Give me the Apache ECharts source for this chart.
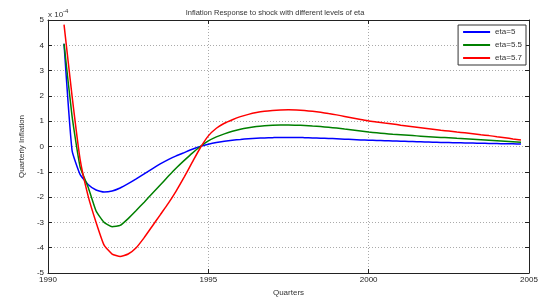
<!DOCTYPE html>
<html>
<head>
<meta charset="utf-8">
<script src="https://cdn.jsdelivr.net/npm/echarts@6/dist/echarts.min.js"></script>
<style>
  html, body { margin: 0; padding: 0; background: #fff; }
  #chart { width: 557px; height: 302px; }
</style>
</head>
<body>
<div id="chart"></div>
<script>
// quarterly responses (x 10^-4), first point at 1990 Q3
const startYear = 1990.5;
const step = 0.25;
const seriesNames = ["eta=5", "eta=5.5", "eta=5.7"];
const seriesColors = ["#0000ff", "#008000", "#ff0000"];

const eta5 = [4.06, -0.15, -1.1, -1.5, -1.72, -1.8, -1.76, -1.64, -1.47, -1.28, -1.08, -0.88, -0.69,
  -0.52, -0.37, -0.24, -0.11, 0.0, 0.09, 0.16, 0.21, 0.25, 0.28, 0.31, 0.33, 0.34, 0.35, 0.36, 0.36,
  0.36, 0.35, 0.34, 0.33, 0.32, 0.31, 0.29, 0.28, 0.26, 0.25, 0.24, 0.23, 0.22, 0.21, 0.2, 0.19,
  0.18, 0.17, 0.16, 0.155, 0.15, 0.14, 0.135, 0.13, 0.12, 0.115, 0.11, 0.105, 0.1];

const eta55 = [4.06, 1.2, -0.8, -1.6, -2.55, -3.0, -3.17, -3.12, -2.85, -2.53, -2.2, -1.86, -1.52,
  -1.18, -0.85, -0.55, -0.26, 0.0, 0.22, 0.38, 0.5, 0.6, 0.68, 0.74, 0.79, 0.82, 0.84, 0.85, 0.85,
  0.84, 0.83, 0.81, 0.79, 0.76, 0.73, 0.69, 0.65, 0.61, 0.57, 0.54, 0.51, 0.48, 0.46, 0.44, 0.42,
  0.4, 0.38, 0.36, 0.35, 0.33, 0.31, 0.29, 0.27, 0.25, 0.23, 0.21, 0.19, 0.17];

const eta57 = [4.82, 2.0, -0.5, -1.95, -3.0, -3.9, -4.25, -4.35, -4.25, -4.0, -3.6, -3.15, -2.7,
  -2.25, -1.75, -1.2, -0.62, -0.05, 0.42, 0.72, 0.92, 1.06, 1.18, 1.27, 1.34, 1.39, 1.42, 1.44, 1.45,
  1.44, 1.42, 1.39, 1.35, 1.3, 1.25, 1.19, 1.13, 1.07, 1.01, 0.97, 0.93, 0.89, 0.84, 0.8, 0.76,
  0.72, 0.68, 0.64, 0.61, 0.57, 0.54, 0.5, 0.46, 0.43, 0.39, 0.35, 0.3, 0.26];

const allValues = [eta5, eta55, eta57];

const chart = echarts.init(document.getElementById("chart"));

const font = "Liberation Sans, Arial, sans-serif";
const axisColor = "#222";
const gridLine = { show: true, lineStyle: { color: "#aaa", type: [1, 2], width: 1 } };

function toPairs(vals) {
  return vals.map((v, i) => [startYear + i * step, v]);
}

function frameAxis(extra) {
  return Object.assign({
    axisLine: { show: true, onZero: false, lineStyle: { color: axisColor, width: 1 } },
    axisTick: { show: true, inside: true, length: 4, lineStyle: { color: axisColor } },
    axisLabel: { show: false },
    splitLine: { show: false },
  }, extra);
}

const option = {
  animation: false,
  backgroundColor: "#fff",
  textStyle: { fontFamily: font },
  title: {
    text: "Inflation Response to shock with different levels of eta",
    left: 270,
    top: 4,
    textAlign: "center",
    textStyle: { fontSize: 7.5, fontWeight: "normal", color: "#333", fontFamily: font },
  },
  legend: {
    orient: "vertical",
    right: 31,
    top: 25,
    data: seriesNames,
    icon: "rect",
    itemWidth: 27,
    itemHeight: 2,
    itemGap: 5,
    padding: [3, 4, 3, 5],
    borderColor: "#333",
    borderWidth: 1,
    backgroundColor: "#fff",
    textStyle: { fontSize: 8, color: "#333", fontFamily: font },
  },
  graphic: [
    {
      type: "text",
      left: 48,
      top: 8,
      style: {
        text: "{a|x 10}{b|-4}",
        rich: {
          a: { fontSize: 8, fill: "#333", fontFamily: font, padding: [3, 0, 0, 0] },
          b: { fontSize: 6, fill: "#333", fontFamily: font, verticalAlign: "top" },
        },
      },
    },
  ],
  grid: { left: 48, right: 28, top: 20, bottom: 29 },
  xAxis: [
    frameAxis({
      type: "value",
      min: 1990,
      max: 2005,
      interval: 5,
      position: "bottom",
      name: "Quarters",
      nameLocation: "middle",
      nameGap: 15,
      nameTextStyle: { fontSize: 8, color: "#333", fontFamily: font },
      axisLabel: { fontSize: 8, color: "#222", margin: 3, fontFamily: font, formatter: (v) => String(v) },
      splitLine: gridLine,
    }),
    frameAxis({ type: "value", min: 1990, max: 2005, interval: 5, position: "top" }),
  ],
  yAxis: [
    frameAxis({
      type: "value",
      min: -5,
      max: 5,
      interval: 1,
      position: "left",
      name: "Quarterly Inflation",
      nameLocation: "middle",
      nameGap: 20,
      nameTextStyle: { fontSize: 8, color: "#333", fontFamily: font },
      axisLabel: { fontSize: 8, color: "#222", margin: 4, fontFamily: font },
      splitLine: gridLine,
    }),
    frameAxis({ type: "value", min: -5, max: 5, interval: 1, position: "right" }),
  ],
  series: allValues.map((vals, k) => ({
    name: seriesNames[k],
    type: "line",
    xAxisIndex: 0,
    yAxisIndex: 0,
    data: toPairs(vals),
    symbol: "none",
    smooth: 0.15,
    lineStyle: { color: seriesColors[k], width: 1.5 },
    itemStyle: { color: seriesColors[k] },
  })),
};

chart.setOption(option);
</script>
</body>
</html>
